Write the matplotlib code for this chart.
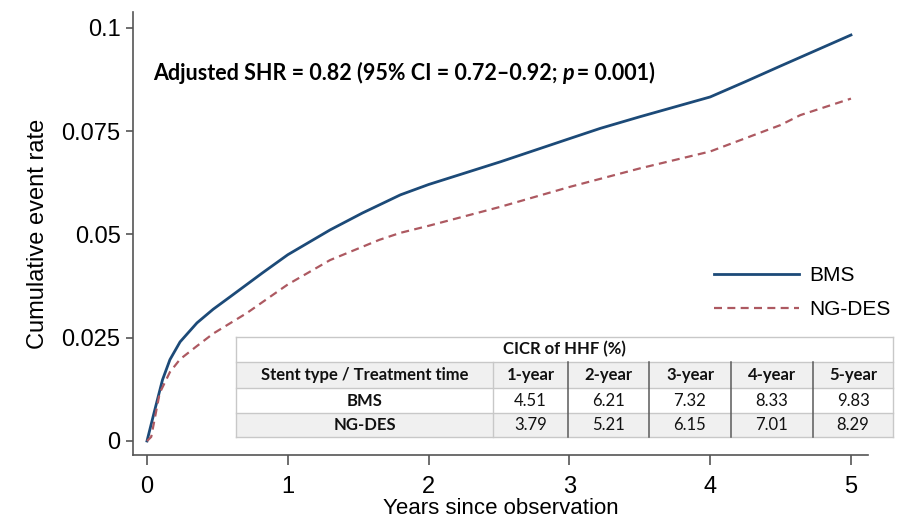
import matplotlib
matplotlib.use("Agg")
import matplotlib.pyplot as plt
from matplotlib.patches import Rectangle
from matplotlib.lines import Line2D

# cumulative incidence
bms_t = [0, 0.05, 0.11, 0.163, 0.235, 0.355, 0.47, 0.59, 0.82, 1.0, 1.30, 1.53,
         1.80, 2.0, 2.51, 3.0, 3.22, 3.5, 4.0, 4.25, 4.5, 5.0]
bms_y = [0, 0.0068, 0.0148, 0.0197, 0.0240, 0.0286, 0.0319, 0.0349, 0.0407,
         0.0451, 0.0511, 0.0552, 0.0596, 0.0621, 0.0676, 0.0732, 0.0757,
         0.0785, 0.0833, 0.0870, 0.0908, 0.0983]
nges_t = [0, 0.03, 0.09, 0.163, 0.235, 0.355, 0.47, 0.71, 0.945, 1.0, 1.3, 1.65,
          1.80, 2.0, 2.51, 3.0, 3.5, 4.0, 4.5, 4.64, 5.0]
nges_y = [0, 0.0010, 0.0116, 0.0167, 0.0198, 0.0230, 0.0260, 0.0310, 0.0366,
          0.0379, 0.0438, 0.0487, 0.0504, 0.0521, 0.0567, 0.0615, 0.0660,
          0.0701, 0.0765, 0.0789, 0.0829]

yticks = [0, 0.025, 0.05, 0.075, 0.1]
ytick_labels = ["0", "0.025", "0.05", "0.075", "0.1"]
xticks = [0, 1, 2, 3, 4, 5]

table_title = "CICR of HHF (%)"
table_header = ["Stent type / Treatment time", "1-year", "2-year", "3-year", "4-year", "5-year"]
bms_cicr = ["4.51", "6.21", "7.32", "8.33", "9.83"]
nges_cicr = ["3.79", "5.21", "6.15", "7.01", "8.29"]

bms_color = "#1c4a78"
nges_color = "#ad5961"
axis_grey = "#555555"
W, H = 899, 523

fig = plt.figure(figsize=(8.99, 5.23), dpi=100)
ax = fig.add_axes([133 / W, 1 - 455 / H, 735 / W, 443 / H])

ax.plot(bms_t, bms_y, color=bms_color, lw=2.0, label="BMS")
ax.plot(nges_t, nges_y, color=nges_color, lw=1.6, dashes=(3.6, 2.4), label="NG-DES")

ax.set_xlim(-0.0994, 5.121)
ax.set_ylim(-0.00339, 0.10387)
ax.set_xticks(xticks)
ax.set_xticklabels([str(x) for x in xticks], family="Liberation Sans", fontsize=17)
ax.set_yticks(yticks)
ax.set_yticklabels(ytick_labels, family="Liberation Sans", fontsize=17)
ax.tick_params(direction="out", length=5, width=1.2, color=axis_grey)
ax.tick_params(axis="x", length=7, pad=8)
ax.tick_params(axis="y", pad=4)
for s in ["top", "right"]:
    ax.spines[s].set_visible(False)
for s in ["left", "bottom"]:
    ax.spines[s].set_color(axis_grey)
    ax.spines[s].set_linewidth(1.2)

ax.set_xlabel("Years since observation", family="Liberation Sans", fontsize=16, labelpad=0)
ax.set_ylabel("Cumulative event rate", family="Liberation Sans", fontsize=17, labelpad=9)

# annotation, with italic p
t1 = ax.text(0.04, 0.0865, "Adjusted SHR = 0.82 (95% CI = 0.72\u20130.92; ",
             family="Lato", weight="bold", fontsize=15.5, va="bottom")
t2 = ax.annotate("p", xy=(1, 0), xycoords=t1, family="Lato", weight="bold",
                 style="italic", fontsize=15.5, va="bottom")
ax.annotate("\u2009= 0.001)", xy=(1, 0), xycoords=t2, family="Lato", weight="bold",
            fontsize=15.5, va="bottom")

leg = ax.legend(loc="upper left", bbox_to_anchor=(714 / W, 1 - 266 / H),
                bbox_transform=fig.transFigure, frameon=False, borderpad=0,
                borderaxespad=0, handlelength=4.1, handletextpad=0.48,
                labelspacing=0.72,
                prop={"family": "Liberation Sans", "size": 15})

# table drawn in figure pixels
cols = [236, 493, 568, 649, 731, 813, 893]
rows = [337, 362, 388, 413, 437]
fills = ["white", "#f0f0f0", "white", "#f0f0f0"]
light = "#c8c8c8"
dark = "#5a5a5a"


def fx(x):
    return x / W


def fy(y):
    return 1 - y / H


for i in range(4):
    fig.add_artist(Rectangle((fx(cols[0]), fy(rows[i + 1])), fx(cols[-1]) - fx(cols[0]),
                             fy(rows[i]) - fy(rows[i + 1]), transform=fig.transFigure,
                             facecolor=fills[i], edgecolor="none"))
for y in rows:
    fig.add_artist(Line2D([fx(cols[0]), fx(cols[-1])], [fy(y), fy(y)], transform=fig.transFigure,
                          color=light, lw=1.0))
for x in [cols[0], cols[-1]]:
    fig.add_artist(Line2D([fx(x), fx(x)], [fy(rows[0]), fy(rows[-1])], transform=fig.transFigure,
                          color=light, lw=1.0))
fig.add_artist(Line2D([fx(cols[1]), fx(cols[1])], [fy(rows[1]), fy(rows[-1])], transform=fig.transFigure,
                      color=light, lw=1.0))
for x in cols[2:-1]:
    fig.add_artist(Line2D([fx(x), fx(x)], [fy(rows[1]), fy(rows[-1])], transform=fig.transFigure,
                          color=dark, lw=1.1))

tkw = dict(family="Lato", fontsize=12, ha="center", va="center", color="#111111")
fig.text(fx((cols[0] + cols[-1]) / 2), fy((rows[0] + rows[1]) / 2), table_title, weight="bold", **tkw)
for j, h in enumerate(table_header):
    fig.text(fx((cols[j] + cols[j + 1]) / 2), fy((rows[1] + rows[2]) / 2), h, weight="bold", **tkw)
for r, (name, vals) in enumerate([("BMS", bms_cicr), ("NG-DES", nges_cicr)]):
    yc = fy((rows[2 + r] + rows[3 + r]) / 2)
    fig.text(fx((cols[0] + cols[1]) / 2), yc, name, weight="bold", **tkw)
    for j, v in enumerate(vals):
        fig.text(fx((cols[j + 1] + cols[j + 2]) / 2), yc, v, **tkw)

fig.savefig("out.png", dpi=100)
